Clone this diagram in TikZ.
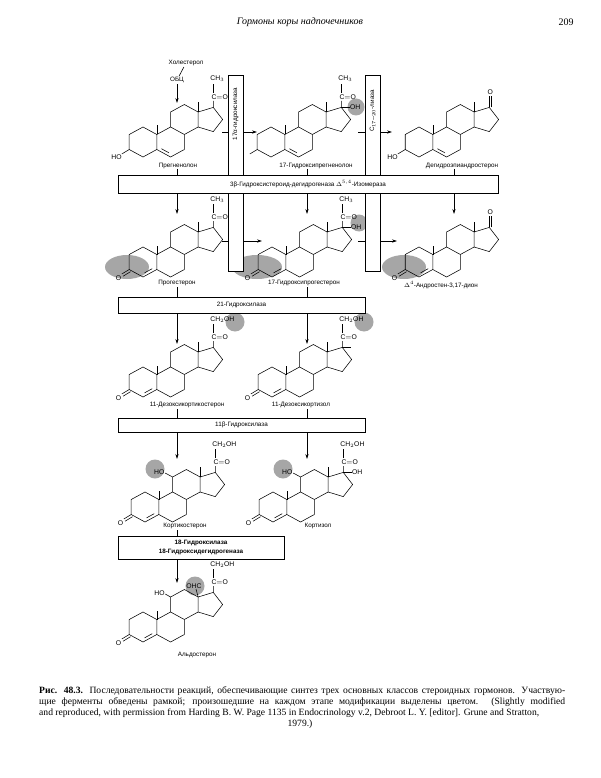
\documentclass[tikz,border=0pt]{standalone}
\usepackage{fontspec}
\setmainfont{Liberation Serif}
\newfontfamily\lsans{Liberation Sans}
\usetikzlibrary{calc,arrows.meta}
\tikzset{
 bond/.style={line width=0.55pt},
 lbl/.style={font=\lsans\fontsize{6.3}{7}\selectfont, inner sep=1pt},
 atom/.style={font=\lsans\fontsize{6.8}{7}\selectfont, inner sep=0.5pt},
 enz/.style={draw, line width=0.6pt, fill=white},
 enzt/.style={font=\lsans\fontsize{6.3}{7.5}\selectfont, align=center, inner sep=0pt},
 arr/.style={line width=0.6pt,-{Stealth[length=5pt,width=3.2pt]}},
 ln/.style={line width=0.6pt},
 hl/.style={fill=black!35, draw=none},
 mol/.style={xscale=1.06},
}
\newcommand\skel{%
 \coordinate (ra) at (0,0); \coordinate (rb) at (26,0);
 \coordinate (c1) at (0,-15); \coordinate (c2) at (-13,-7.5);
 \coordinate (c3) at (-13,7.5); \coordinate (c4) at (0,15);
 \coordinate (c5) at (13,7.5); \coordinate (c10) at (13,-7.5);
 \coordinate (c6) at (26,15); \coordinate (c7) at (39,7.5);
 \coordinate (c8) at (39,-7.5); \coordinate (c9) at (26,-15);
 \coordinate (c11) at (26,-30); \coordinate (c12) at (39,-37.5);
 \coordinate (c13) at (52,-30); \coordinate (c14) at (52,-15);
 \coordinate (c17) at (66.3,-34.6); \coordinate (c16) at (75.1,-22.5);
 \coordinate (c15) at (66.3,-10.4);
 \draw[bond] (c1)--(c2)--(c3)--(c4)--(c5)--(c10)--cycle;
 \draw[bond] (c5)--(c6)--(c7)--(c8)--(c9)--(c10);
 \draw[bond] (c9)--(c11)--(c12)--(c13)--(c14)--(c8);
 \draw[bond] (c13)--(c17)--(c16)--(c15)--(c14);
 \draw[bond] (c10)--++(0,-9);}
\newcommand\meth{\draw[bond] (c13)--++(0,-10);}
\newcommand\dfour{\draw[bond] ($($(c4)!.15!(c5)$)!.22!(ra)$)--($($(c5)!.15!(c4)$)!.22!(ra)$);}
\newcommand\dfive{\draw[bond] ($($(c5)!.15!(c6)$)!.22!(rb)$)--($($(c6)!.15!(c5)$)!.22!(rb)$);}
\newcommand\hoA{\draw[bond] (c3)--++(-7,4.5); \node[atom] at (-25,15) {HO};}
\newcommand\ketoA{\draw[bond] (c3)--++(-7,4.5); \draw[bond] ($(c3)+(1.2,2.2)$)--++(-7,4.5); \node[atom] at (-23,16) {O};}
\newcommand\chain[1]{\draw[bond] (c17)--(66.3,-41);
 \node[atom,anchor=base west] (co) at (64,-42.5) {C$=$O};
 \draw[bond] (66.3,-49)--(66.3,-58);
 \node[atom,anchor=base west] at (63,-61) {#1};}
\newcommand\ohD{\draw[bond] (c17)--++(8,0); \node[atom,anchor=west] at (74,-34.6) {OH};}
\newcommand\ketoD{\draw[bond] (c17)--++(0,-11); \draw[bond] ($(c17)+(2.2,0)$)--++(0,-11); \node[atom] at (67.3,-50) {O};}
\newcommand\hoC{\draw[bond] (c11)--++(-7,-4); \node[atom,anchor=east] at (19,-35) {HO};}
\begin{document}
\begin{tikzpicture}[x=1pt,y=-1pt]
\useasboundingbox[fill=white] (0,0) rectangle (600,778);
\node[font=\itshape\fontsize{10}{12}\selectfont] (hdr) at (300,22) {Гормоны коры надпочечников};
\node[font=\fontsize{10}{12}\selectfont] (pg) at (566,22) {209};
\fill[hl] (356,107) circle (8.5);
\fill[hl] (127,267) ellipse (22 and 12);
\fill[hl] (257,267) ellipse (25 and 12);
\fill[hl] (359,223) circle (8.5);
\fill[hl] (404,267) ellipse (22 and 12);
\fill[hl] (235,322) circle (9.5);
\fill[hl] (364,322) circle (9.5);
\fill[hl] (155,469) circle (9.5);
\fill[hl] (283,469) circle (9.5);
\fill[hl] (195,586) circle (9.5);
\node[lbl] (chol) at (186,63) {Холестерол};
\node[lbl] (obc) at (177,80) {ОБЦ};
\draw[ln] (chol) -- (obc);
\coordinate (pin) at (177,103);
\draw[arr] (obc) -- (pin);
\begin{scope}[shift={(143,142)},mol] \skel\meth\dfive\hoA\chain{CH$_3$} \end{scope}
\begin{scope}[shift={(271,142)},mol] \skel\meth\dfive\draw[bond](c3)--++(-7,4.5);\chain{CH$_3$}\ohD \end{scope}
\begin{scope}[shift={(419,142)},mol] \skel\meth\dfive\hoA\ketoD \end{scope}
\node[lbl] (preg) at (178,166) {Прегненолон};
\node[lbl] (ohpreg) at (316,166) {17-Гидроксипрегненолон};
\node[lbl] (dhea) at (462,166) {Дегидроэпиандростерон};
\begin{scope}[shift={(143,262)},mol] \skel\meth\dfour\ketoA\chain{CH$_3$} \end{scope}
\begin{scope}[shift={(272,262)},mol] \skel\meth\dfour\ketoA\chain{CH$_3$}\ohD \end{scope}
\begin{scope}[shift={(419,262)},mol] \skel\meth\dfour\ketoA\ketoD \end{scope}
\node[lbl] (prog) at (177,283) {Прогестерон};
\node[lbl] (ohprog) at (304,283) {17-Гидроксипрогестерон};
\node[lbl] (andr) at (441,285) {$\Delta^4$-Андростен-3,17-дион};
\begin{scope}[shift={(143,382)},mol] \skel\meth\dfour\ketoA\chain{CH$_2$OH} \end{scope}
\begin{scope}[shift={(272,382)},mol] \skel\meth\dfour\ketoA\chain{CH$_2$OH}\draw[bond](c17)--++(8,0); \end{scope}
\node[lbl] (doc) at (187,405) {11-Дезоксикортикостерон};
\node[lbl] (dcort) at (301,405) {11-Дезоксикортизол};
\begin{scope}[shift={(145,507)},mol] \skel\meth\dfour\ketoA\hoC\chain{CH$_2$OH} \end{scope}
\begin{scope}[shift={(273,507)},mol] \skel\meth\dfour\ketoA\hoC\chain{CH$_2$OH}\ohD \end{scope}
\node[lbl] (cortc) at (185,526) {Кортикостерон};
\node[lbl] (corts) at (318,526) {Кортизол};
\begin{scope}[shift={(143,627)},mol] \skel\dfour\ketoA\chain{CH$_2$OH}
 \draw[bond](c13)--++(-2,-8); \node[atom] at (48,-41) {OHC};
 \draw[bond](c11)--++(-5,-3); \node[atom,anchor=east] at (21,-34) {HO}; \end{scope}
\node[lbl] (aldo) at (197,655) {Альдостерон};
\coordinate (h1a) at (222,132); \coordinate (h1b) at (257,132);
\coordinate (h2a) at (358,132); \coordinate (h2b) at (392,132);
\coordinate (h3a) at (222,241); \coordinate (h3b) at (262,241);
\coordinate (h4a) at (358,241); \coordinate (h4b) at (397,241);
\draw[arr] (h1a)--(h1b); \draw[arr] (h2a)--(h2b);
\draw[arr] (h3a)--(h3b); \draw[arr] (h4a)--(h4b);
\draw[enz] (228,75) rectangle (243,271);
\node[enzt,rotate=90] (e17) at (235.5,114) {17α-гидроксилаза};
\draw[enz] (365,75) rectangle (380,271);
\node[enzt,rotate=90] (lia) at (372.5,111) {C$_{17\mbox{--}20}$-лиаза};
\node[enz, minimum width=380pt, minimum height=18pt, inner sep=0pt, enzt] (b1) at (308,184) {3β-Гидроксистероид-дегидрогеназа $\Delta^{5,4}$-Изомераза};
\coordinate (t1) at (177,175); \coordinate (t2) at (307,175); \coordinate (t3) at (454,175);
\draw[ln] (177,169)--(t1); \draw[ln] (307,169)--(t2); \draw[ln] (454,169)--(t3);
\draw[arr] (177,193)--(177,214); \draw[arr] (307,193)--(307,214); \draw[arr] (454,193)--(454,214);
\node[enz, minimum width=247pt, minimum height=16pt, inner sep=0pt, enzt] (b2) at (241.5,305) {21-Гидроксилаза};
\draw[ln] (177,287)--(177,297); \draw[ln] (307,287)--(307,297);
\draw[arr] (177,313)--(177,344); \draw[arr] (307,313)--(307,344);
\node[enz, minimum width=247pt, minimum height=14pt, inner sep=0pt, enzt] (b3) at (241.5,425) {11β-Гидроксилаза};
\draw[ln] (177,409)--(177,418); \draw[ln] (307,409)--(307,418);
\draw[arr] (177,432)--(177,459); \draw[arr] (307,432)--(307,459);
\node[enz, minimum width=166pt, minimum height=23pt, inner sep=0pt, enzt, font=\lsans\bfseries\fontsize{6.3}{8.5}\selectfont] (b4) at (201,547.5) {18-Гидроксилаза\\18-Гидроксидегидрогеназа};
\draw[ln] (177,530)--(177,536);
\draw[arr] (177,559)--(177,583);
\node[anchor=north west, inner sep=0pt, text width=526pt, align=justify, font=\fontsize{9.6}{11}\selectfont] (cap) at (39,686) {\parfillskip=0pt \textbf{Рис. 48.3.} Последовательности реакций, обеспечивающие синтез трех основных классов стероидных гормонов. Участвую-\break щие ферменты обведены рамкой; произошедшие на каждом этапе модификации выделены цветом. (Slightly modified\break and reproduced, with permission from Harding B. W. Page 1135 in Endocrinology v.2, Debroot L. Y. [editor]. Grune and Stratton,};
\node[font=\fontsize{9.6}{11}\selectfont] (yr) at (300,724) {1979.)};
\end{tikzpicture}
\end{document}
